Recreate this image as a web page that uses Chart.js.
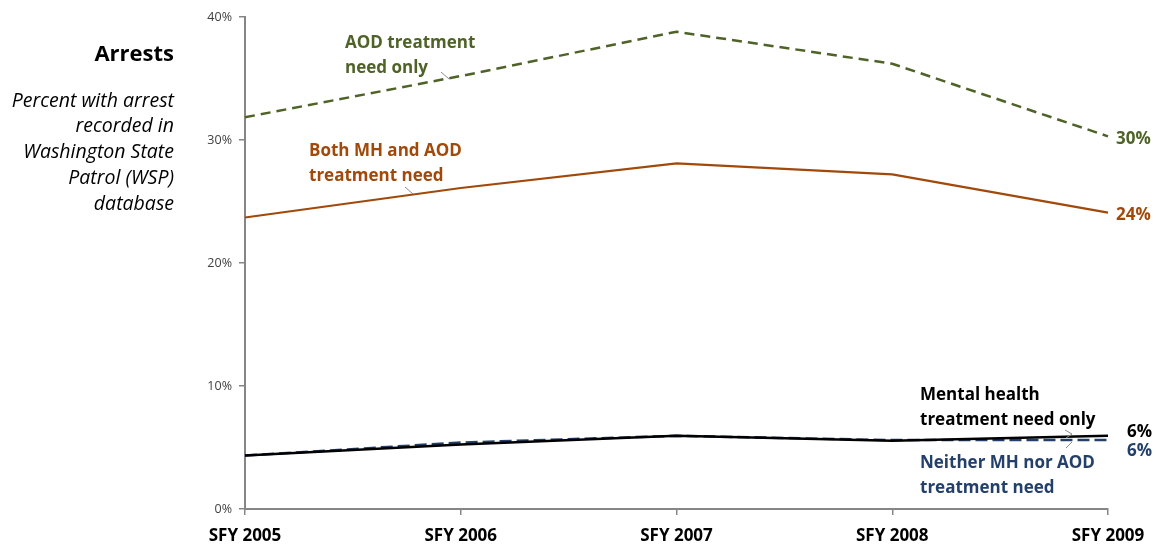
<!DOCTYPE html>
<html>
<head>
<meta charset="utf-8">
<script src="https://cdn.jsdelivr.net/npm/chart.js@4"></script>
<style>
  html, body { margin: 0; padding: 0; background: #ffffff; }
  #wrap { width: 1159px; height: 546px; position: relative; }
</style>
</head>
<body>
<div id="wrap"><canvas id="chart" width="1159" height="546"></canvas></div>
<script>
// Fiscal years on the x axis
const years = ['SFY 2005', 'SFY 2006', 'SFY 2007', 'SFY 2008', 'SFY 2009'];

// Percent of each group with an arrest recorded in the WSP database
const aodOnly     = [31.85, 35.2, 38.8, 36.2, 30.3];
const bothMhAod   = [23.7, 26.1, 28.1, 27.2, 24.1];
const mhOnly      = [4.35, 5.25, 5.95, 5.55, 5.95];
const neitherMhAod = [4.35, 5.4, 5.95, 5.6, 5.6];

// Y axis tick values (percent)
const yTicks = [0, 10, 20, 30, 40];

const GREEN = '#4f6228';
const BROWN = '#a0490a';
const NAVY  = '#24406a';
const BLACK = '#000000';
const AXIS  = '#868686';
const FONT  = '"Open Sans", Lato, sans-serif';

// Series captions, leader lines and end-of-line value labels
const annotations = {
  id: 'annotations',
  afterDatasetsDraw(chart) {
    const ctx = chart.ctx;
    const xs = chart.scales.x, ys = chart.scales.y;
    const last = years.length - 1;
    const xEnd = xs.getPixelForValue(last);
    ctx.save();

    // Heading on the left
    ctx.textAlign = 'right';
    ctx.textBaseline = 'middle';
    ctx.fillStyle = '#000';
    ctx.font = 'bold 22px ' + FONT;
    ctx.fillText('Arrests', 174, 55);
    ctx.font = 'italic 19.5px ' + FONT;
    const sub = ['Percent with arrest', 'recorded in', 'Washington State', 'Patrol (WSP)', 'database'];
    sub.forEach((s, i) => ctx.fillText(s, 174, 101 + i * 25.8));

    // Series captions
    ctx.textAlign = 'left';
    ctx.font = 'bold 17px ' + FONT;
    const caption = (lines, x, y, color) => {
      ctx.fillStyle = color;
      lines.forEach((s, i) => ctx.fillText(s, x, y + i * 25));
    };
    caption(['AOD treatment', 'need only'], 345, 43, GREEN);
    caption(['Both MH and AOD', 'treatment need'], 309, 151, BROWN);
    caption(['Mental health', 'treatment need only'], 920, 395, BLACK);
    caption(['Neither MH nor AOD', 'treatment need'], 920, 463, NAVY);

    // Leader lines from captions to their series
    ctx.strokeStyle = '#8c8c8c';
    ctx.lineWidth = 1;
    const leader = (pts) => {
      ctx.beginPath();
      ctx.moveTo(pts[0][0], pts[0][1]);
      pts.slice(1).forEach(p => ctx.lineTo(p[0], p[1]));
      ctx.stroke();
    };
    leader([[441, 72], [449, 79]]);
    leader([[405, 187], [413, 194]]);
    leader([[1065, 430], [1072, 434], [1066, 438]]);
    leader([[1066, 448], [1072, 442]]);

    // Value labels at the end of each line
    ctx.font = 'bold 17px ' + FONT;
    const endLabel = (data, color, x, dy) => {
      ctx.fillStyle = color;
      ctx.fillText(Math.round(data[last]) + '%', x, ys.getPixelForValue(data[last]) + dy);
    };
    endLabel(aodOnly, GREEN, xEnd + 8, 3);
    endLabel(bothMhAod, BROWN, xEnd + 8, 3);
    endLabel(mhOnly, BLACK, xEnd + 19, -4);
    endLabel(neitherMhAod, NAVY, xEnd + 19, 11);

    ctx.restore();
  }
};

new Chart(document.getElementById('chart'), {
  type: 'line',
  data: {
    labels: years,
    datasets: [
      { label: 'AOD treatment need only', data: aodOnly, borderColor: GREEN,
        borderWidth: 2.5, borderDash: [10, 6], order: 3 },
      { label: 'Both MH and AOD treatment need', data: bothMhAod, borderColor: BROWN,
        borderWidth: 2.2, order: 2 },
      { label: 'Neither MH nor AOD treatment need', data: neitherMhAod, borderColor: NAVY,
        borderWidth: 2.5, borderDash: [12, 5], order: 1 },
      { label: 'Mental health treatment need only', data: mhOnly, borderColor: BLACK,
        borderWidth: 2.5, order: 0 }
    ]
  },
  options: {
    responsive: false,
    animation: false,
    devicePixelRatio: 1,
    layout: { padding: { top: 17, right: 51, bottom: 0, left: 0 } },
    elements: { point: { radius: 0 }, line: { tension: 0, fill: false } },
    plugins: { legend: { display: false }, tooltip: { enabled: false } },
    scales: {
      x: {
        type: 'category',
        offset: false,
        grid: { drawOnChartArea: false, drawTicks: true, tickLength: 6, color: AXIS, lineWidth: 1.5 },
        border: { color: AXIS, width: 2 },
        ticks: { color: '#000', font: { family: FONT, size: 17, weight: 'bold' }, padding: 11, maxRotation: 0, autoSkip: false },
        afterFit(s) { s.height = 37; }
      },
      y: {
        min: 0, max: 40,
        afterBuildTicks(s) { s.ticks = yTicks.map(v => ({ value: v })); },
        grid: { drawOnChartArea: false, drawTicks: true, tickLength: 6, color: AXIS, lineWidth: 1.5 },
        border: { color: AXIS, width: 2 },
        ticks: { color: '#404040', font: { family: FONT, size: 12.5 }, padding: 7,
                 callback: v => v + '%' },
        afterFit(s) { s.width = 245; }
      }
    }
  },
  plugins: [annotations]
});
</script>
</body>
</html>
